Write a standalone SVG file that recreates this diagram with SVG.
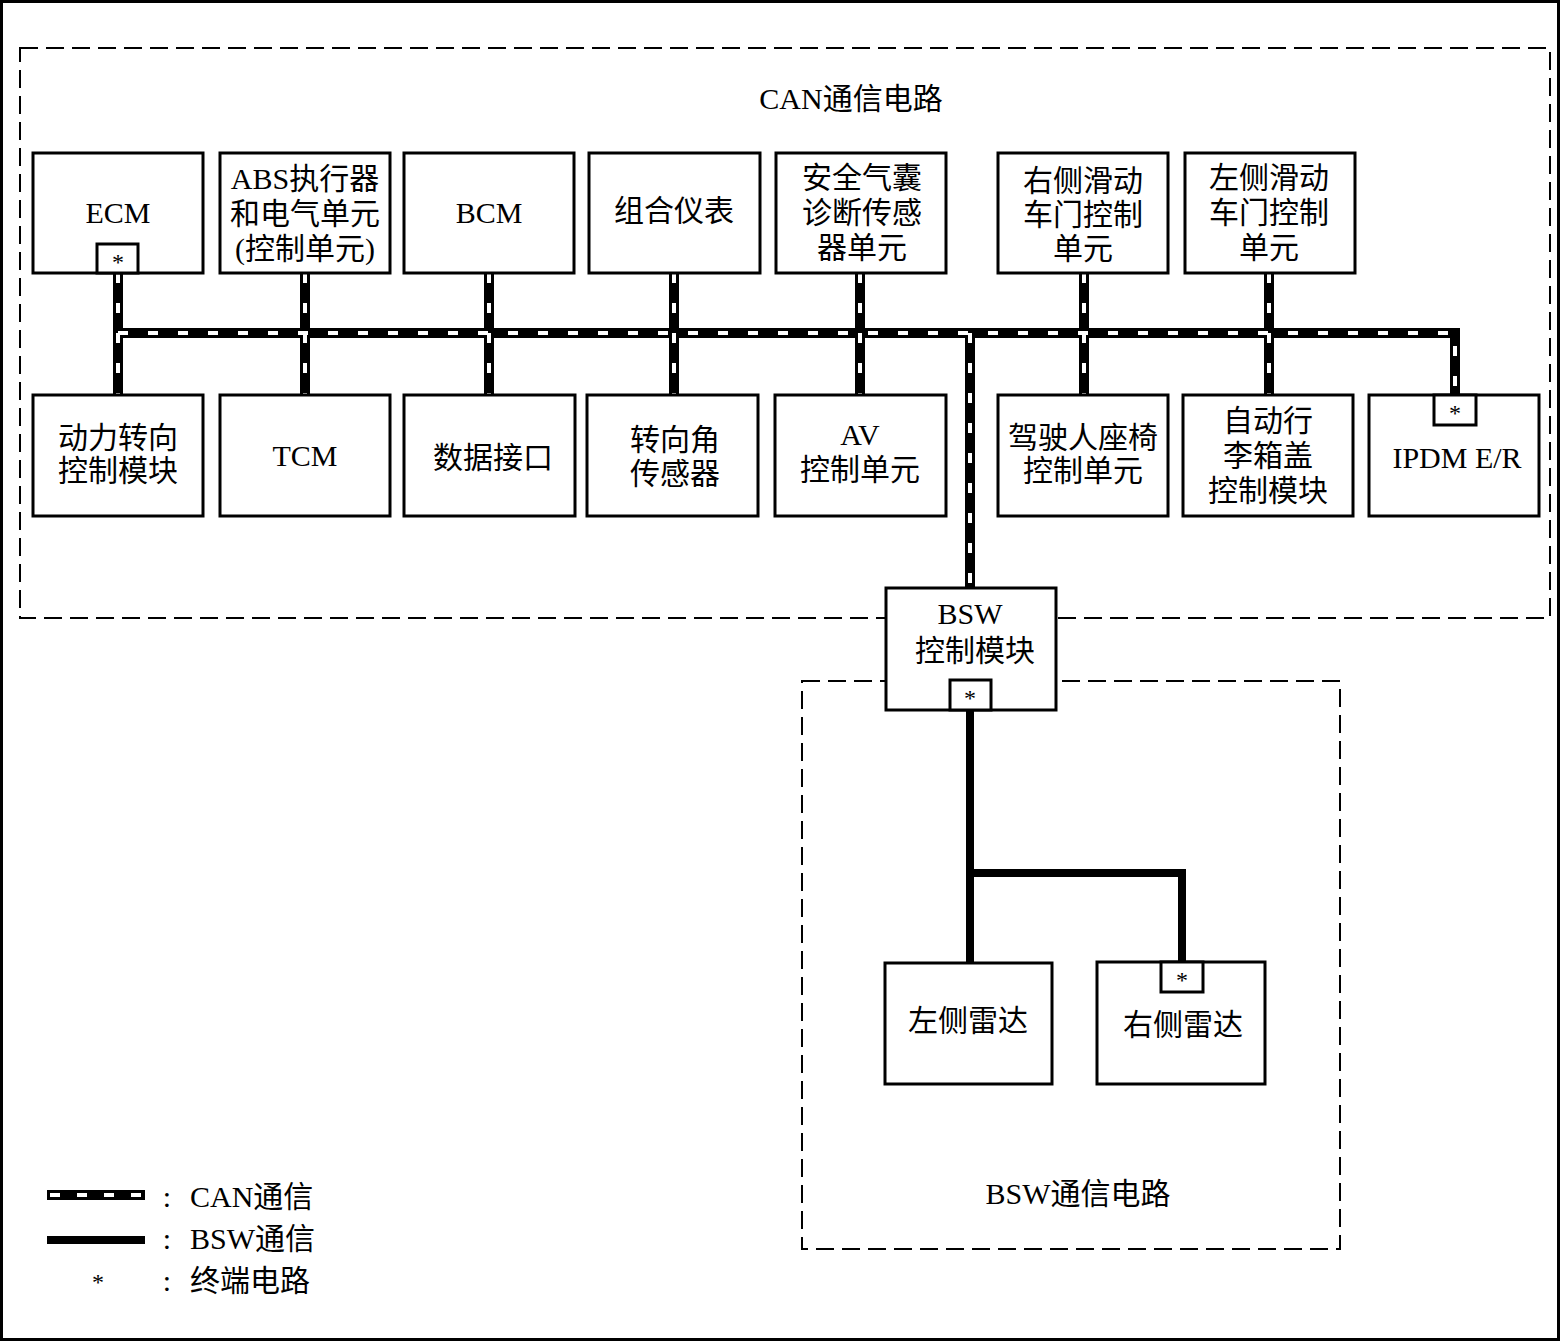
<svg xmlns="http://www.w3.org/2000/svg" width="1561" height="1342" viewBox="0 0 1561 1342">
<style>
.box{fill:#fff;stroke:#000;stroke-width:3}
.term{fill:#fff;stroke:#000;stroke-width:3}
.t{font-family:"Liberation Serif","Noto Sans CJK SC",serif;font-size:30px;fill:#000;text-anchor:middle;dominant-baseline:central}
.ts{font-family:"Liberation Serif","Noto Sans CJK SC",serif;font-size:24px;fill:#000;text-anchor:middle;dominant-baseline:central}
.region{fill:none;stroke:#000;stroke-width:2;stroke-dasharray:18 8}
.canb{fill:none;stroke:#000;stroke-width:10}
.canw{fill:none;stroke:#fff;stroke-width:4;stroke-dasharray:10 20}
.bsw{fill:none;stroke:#000;stroke-width:8}
</style>
<rect x="0" y="0" width="1561" height="1342" fill="#fff"/>
<rect x="1.5" y="1.5" width="1557" height="1338" fill="none" stroke="#000" stroke-width="3"/>
<g id="regions">
<rect class="region" x="20" y="48" width="1530" height="570"/>
<rect class="region" x="802" y="681" width="538" height="568"/>
<text class="t" x="851" y="98">CAN通信电路</text>
<text class="t" x="1078" y="1193">BSW通信电路</text>
</g>
<g id="connectors">
<path class="canb" d="M118 273V395M305 273V395M489 273V395M674 273V395M860 273V395M1084 273V395M1269 273V395M970 333V588M118 333H1455V395"/>
<path class="canw" d="M118 273V395M305 273V395M489 273V395M674 273V395M860 273V395M1084 273V395M1269 273V395M970 333V588M118 333H1455V395"/>
<path class="bsw" d="M970 710V963M970 873H1182V963"/>
</g>
<g id="ECM"><rect class="box" x="33" y="153" width="170" height="120"/><text class="t" x="118" y="212">ECM</text><rect class="term" x="97" y="244" width="41" height="29"/><text class="ts" x="118" y="262">*</text></g>
<g id="ABS"><rect class="box" x="220" y="153" width="170" height="120"/><text class="t" x="305" y="178">ABS执行器</text><text class="t" x="305" y="213">和电气单元</text><text class="t" x="305" y="248">(控制单元)</text></g>
<g id="BCM"><rect class="box" x="404" y="153" width="170" height="120"/><text class="t" x="489" y="212">BCM</text></g>
<g id="meter"><rect class="box" x="589" y="153" width="171" height="120"/><text class="t" x="674" y="210">组合仪表</text></g>
<g id="airbag"><rect class="box" x="776" y="153" width="170" height="120"/><text class="t" x="862" y="177">安全气囊</text><text class="t" x="862" y="212">诊断传感</text><text class="t" x="862" y="247">器单元</text></g>
<g id="rdoor"><rect class="box" x="998" y="153" width="170" height="120"/><text class="t" x="1083" y="180">右侧滑动</text><text class="t" x="1083" y="214">车门控制</text><text class="t" x="1083" y="248">单元</text></g>
<g id="ldoor"><rect class="box" x="1185" y="153" width="170" height="120"/><text class="t" x="1269" y="177">左侧滑动</text><text class="t" x="1269" y="212">车门控制</text><text class="t" x="1269" y="247">单元</text></g>
<g id="eps"><rect class="box" x="33" y="395" width="170" height="121"/><text class="t" x="118" y="437">动力转向</text><text class="t" x="118" y="470">控制模块</text></g>
<g id="TCM"><rect class="box" x="220" y="395" width="170" height="121"/><text class="t" x="305" y="455">TCM</text></g>
<g id="dlc"><rect class="box" x="404" y="395" width="171" height="121"/><text class="t" x="493" y="457">数据接口</text></g>
<g id="steer"><rect class="box" x="587" y="395" width="171" height="121"/><text class="t" x="675" y="439">转向角</text><text class="t" x="675" y="473">传感器</text></g>
<g id="AV"><rect class="box" x="775" y="395" width="171" height="121"/><text class="t" x="860" y="434">AV</text><text class="t" x="860" y="469">控制单元</text></g>
<g id="seat"><rect class="box" x="998" y="395" width="170" height="121"/><text class="t" x="1083" y="437">驾驶人座椅</text><text class="t" x="1083" y="470">控制单元</text></g>
<g id="trunk"><rect class="box" x="1183" y="395" width="170" height="121"/><text class="t" x="1268" y="420">自动行</text><text class="t" x="1268" y="455">李箱盖</text><text class="t" x="1268" y="490">控制模块</text></g>
<g id="IPDM"><rect class="box" x="1369" y="395" width="170" height="121"/><text class="t" x="1457" y="457">IPDM E/R</text><rect class="term" x="1434" y="395" width="42" height="30"/><text class="ts" x="1455" y="413">*</text></g>
<g id="BSW"><rect class="box" x="886" y="588" width="170" height="122"/><text class="t" x="970" y="613">BSW</text><text class="t" x="975" y="650">控制模块</text><rect class="term" x="950" y="680" width="41" height="30"/><text class="ts" x="970" y="698">*</text></g>
<g id="lradar"><rect class="box" x="885" y="963" width="167" height="121"/><text class="t" x="968" y="1020">左侧雷达</text></g>
<g id="rradar"><rect class="box" x="1097" y="962" width="168" height="122"/><text class="t" x="1183" y="1024">右侧雷达</text><rect class="term" x="1161" y="962" width="42" height="30"/><text class="ts" x="1182" y="980">*</text></g>
<g id="legend">
<path d="M47 1195H145" stroke="#000" stroke-width="10" fill="none"/>
<path d="M50 1195H145" stroke="#fff" stroke-width="4" stroke-dasharray="10 17" fill="none"/>
<path d="M47 1240H145" stroke="#000" stroke-width="8" fill="none"/>
<text class="ts" x="98" y="1282">*</text>
<text class="t" x="167" y="1196">:</text><text class="t" x="167" y="1238">:</text><text class="t" x="167" y="1280">:</text>
<text class="t" x="190" y="1196" style="text-anchor:start">CAN通信</text>
<text class="t" x="190" y="1238" style="text-anchor:start">BSW通信</text>
<text class="t" x="190" y="1280" style="text-anchor:start">终端电路</text>
</g>
</svg>
